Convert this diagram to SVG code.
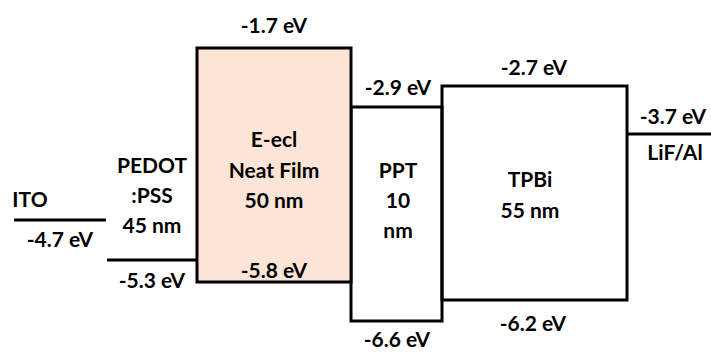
<svg xmlns="http://www.w3.org/2000/svg" width="711" height="352" viewBox="0 0 711 352">
<style>
.t{font-family:Lato,"Liberation Sans",sans-serif;font-weight:700;font-size:21px;fill:#000;text-anchor:middle}
.l{fill:none;stroke:#000;stroke-width:3}
.f{fill:#FCE4D6;stroke:#000;stroke-width:3}
</style>
<rect width="711" height="352" fill="#fff"/>
<g id="ito">
<line class="l" x1="14" y1="220" x2="106" y2="220"/>
<text class="t" x="30" y="207">ITO</text>
<text class="t" x="60" y="247">-4.7 eV</text>
</g>
<g id="pedot">
<line class="l" x1="107" y1="260" x2="197" y2="260"/>
<text class="t" x="152" y="173">PEDOT</text>
<text class="t" x="152" y="203">:PSS</text>
<text class="t" x="152" y="233">45 nm</text>
<text class="t" x="152" y="288">-5.3 eV</text>
</g>
<g id="ppt">
<rect class="l" x="351" y="107" width="91" height="214"/>
<text class="t" x="398" y="95">-2.9 eV</text>
<text class="t" x="398" y="178">PPT</text>
<text class="t" x="398" y="208">10</text>
<text class="t" x="398" y="238">nm</text>
<text class="t" x="397" y="347">-6.6 eV</text>
</g>
<g id="eecl">
<rect class="f" x="197" y="48" width="154" height="234"/>
<text class="t" x="274" y="33">-1.7 eV</text>
<text class="t" x="274" y="147">E-ecl</text>
<text class="t" x="274" y="178">Neat Film</text>
<text class="t" x="274" y="208">50 nm</text>
<text class="t" x="274" y="278">-5.8 eV</text>
</g>
<g id="tpbi">
<rect class="l" x="442" y="86" width="185" height="214"/>
<text class="t" x="534" y="75">-2.7 eV</text>
<text class="t" x="530" y="187">TPBi</text>
<text class="t" x="530" y="218">55 nm</text>
<text class="t" x="533" y="331">-6.2 eV</text>
</g>
<g id="lifal">
<line class="l" x1="627" y1="134" x2="711" y2="134"/>
<text class="t" x="673" y="124">-3.7 eV</text>
<text class="t" x="675" y="160">LiF/Al</text>
</g>
<g id="connectors"></g>
</svg>
